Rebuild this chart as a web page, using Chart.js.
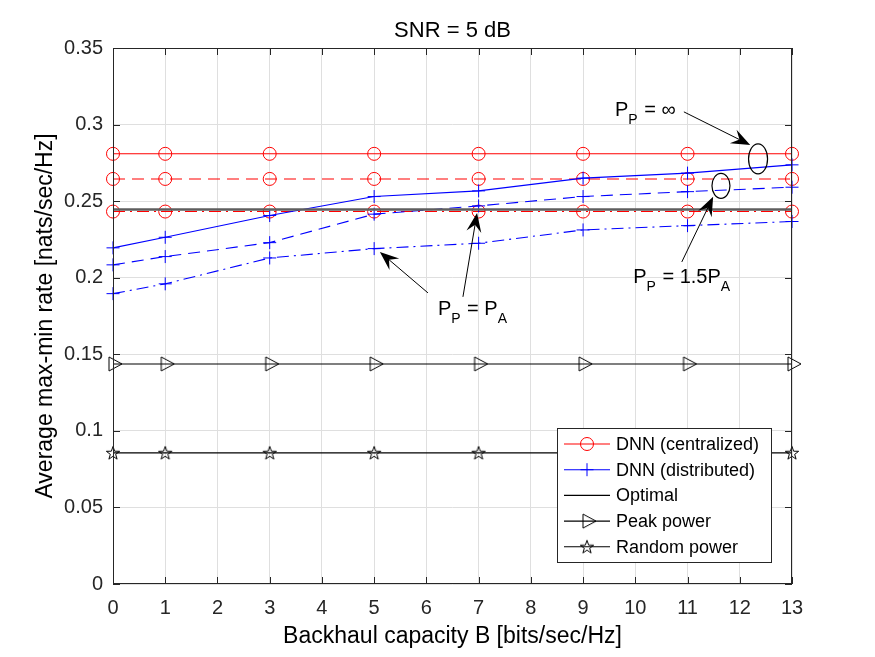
<!DOCTYPE html>
<html>
<head>
<meta charset="utf-8">
<script src="https://cdn.jsdelivr.net/npm/chart.js@4/dist/chart.umd.min.js"></script>
<style>
  html, body { margin: 0; padding: 0; background: #fff; }
  #wrap { width: 875px; height: 657px; }
</style>
</head>
<body>
<div id="wrap"><canvas id="chart" width="875" height="657"></canvas></div>
<script>
// Backhaul capacity B (x axis)
const backhaul = [0, 1, 3, 5, 7, 9, 11, 13];

// DNN (centralized): P_P = inf, 1.5 P_A, P_A
const centralInf  = [0.2809, 0.2809, 0.2809, 0.2809, 0.2809, 0.2809, 0.2809, 0.2809];
const centralHalf = [0.2645, 0.2645, 0.2645, 0.2645, 0.2645, 0.2645, 0.2645, 0.2645];
const centralEq   = [0.2432, 0.2432, 0.2432, 0.2432, 0.2432, 0.2432, 0.2432, 0.2432];

// DNN (distributed): P_P = inf, 1.5 P_A, P_A
const distInf  = [0.2195, 0.2264, 0.2406, 0.2530, 0.2567, 0.2650, 0.2683, 0.2737];
const distHalf = [0.2084, 0.2138, 0.2229, 0.2415, 0.2469, 0.2530, 0.2562, 0.2591];
const distEq   = [0.1896, 0.1960, 0.2129, 0.2190, 0.2225, 0.2312, 0.2340, 0.2367];

// Baselines
const optimal     = [0.2445, 0.2445, 0.2445, 0.2445, 0.2445, 0.2445, 0.2445, 0.2445];
const peakPower   = [0.1437, 0.1437, 0.1437, 0.1437, 0.1437, 0.1437, 0.1437, 0.1437];
const randomPower = [0.0856, 0.0856, 0.0856, 0.0856, 0.0856, 0.0856, 0.0856, 0.0856];

// Ticks
const xTicks = [0, 1, 2, 3, 4, 5, 6, 7, 8, 9, 10, 11, 12, 13];
const yTicks = [0, 0.05, 0.1, 0.15, 0.2, 0.25, 0.3, 0.35];

const legendNames = ['DNN (centralized)', 'DNN (distributed)', 'Optimal', 'Peak power', 'Random power'];

const FONT = '"Liberation Sans", Arial, Helvetica, sans-serif';
const AXIS = '#262626';
const DASH = [12, 7];
const DASHDOT = [12, 5, 2, 5];

// Marcadores propios (triángulo y pentagrama estilo MATLAB)
function makeMarker(size, draw) {
  const c = document.createElement('canvas');
  c.width = size; c.height = size;
  const g = c.getContext('2d');
  g.strokeStyle = '#000';
  g.lineWidth = 1;
  draw(g, size / 2);
  return c;
}
const triMarker = makeMarker(26, (g, c) => {
  g.beginPath();
  g.moveTo(c - 4, c - 7);
  g.lineTo(c + 9, c);
  g.lineTo(c - 4, c + 7);
  g.closePath();
  g.stroke();
});
const starMarker = makeMarker(20, (g, c) => {
  g.beginPath();
  for (let i = 0; i < 10; i++) {
    const r = i % 2 === 0 ? 7 : 2.8;
    const a = -Math.PI / 2 + i * Math.PI / 5;
    const px = c + r * Math.cos(a), py = c + 0.5 + r * Math.sin(a);
    if (i === 0) g.moveTo(px, py); else g.lineTo(px, py);
  }
  g.closePath();
  g.stroke();
});

const pts = (ys) => backhaul.map((x, i) => ({ x: x, y: ys[i] }));

function series(ys, color, dash, style, radius, width) {
  return {
    data: pts(ys),
    borderColor: color,
    borderWidth: width || 1.1,
    borderDash: dash,
    pointStyle: style,
    pointRadius: style ? radius : 0,
    pointBorderColor: color,
    pointBackgroundColor: 'rgba(0,0,0,0)',
    pointBorderWidth: 1,
    tension: 0,
    clip: false
  };
}

const datasets = [
  series(optimal, '#5e5e5e', [], false, 0, 2.4),
  series(peakPower, '#000', [], triMarker, 8),
  series(randomPower, '#000', [], starMarker, 8),
  series(distInf, '#0000ff', [], 'cross', 6.5),
  series(distHalf, '#0000ff', DASH, 'cross', 6.5),
  series(distEq, '#0000ff', DASHDOT, 'cross', 6.5),
  series(centralInf, '#ff0000', [], 'circle', 6.5),
  series(centralHalf, '#ff0000', DASH, 'circle', 6.5),
  series(centralEq, '#ff0000', DASHDOT, 'circle', 6.5)
];

// Anotaciones en coordenadas de datos
const ellipses = [
  { x: 12.35, y: 0.2776, rx: 9.5, ry: 15 },
  { x: 11.64, y: 0.2600, rx: 9, ry: 12.5 }
];
const arrows = [
  { from: [10.93, 0.3083], to: [12.20, 0.2867] },
  { from: [10.89, 0.2103], to: [11.49, 0.2528] },
  { from: [6.03, 0.1901], to: [5.11, 0.2168] },
  { from: [6.70, 0.1875], to: [6.97, 0.2423] }
];
const notes = [
  { x: 9.61, y: 0.3057, parts: [['P'], ['P', 1], [' = \u221E']] },
  { x: 9.96, y: 0.1966, parts: [['P'], ['P', 1], [' = 1.5P'], ['A', 1]] },
  { x: 6.22, y: 0.1757, parts: [['P'], ['P', 1], [' = P'], ['A', 1]] }
];

function drawArrow(ctx, x1, y1, x2, y2) {
  const a = Math.atan2(y2 - y1, x2 - x1);
  const L = 19, W = 7.5, N = 12;
  const cos = Math.cos(a), sin = Math.sin(a);
  ctx.beginPath();
  ctx.moveTo(x1, y1);
  ctx.lineTo(x2 - N * cos, y2 - N * sin);
  ctx.stroke();
  ctx.beginPath();
  ctx.moveTo(x2, y2);
  ctx.lineTo(x2 - L * cos + W * sin, y2 - L * sin - W * cos);
  ctx.lineTo(x2 - N * cos, y2 - N * sin);
  ctx.lineTo(x2 - L * cos - W * sin, y2 - L * sin + W * cos);
  ctx.closePath();
  ctx.fill();
}

function drawNote(ctx, x, y, parts) {
  let cx = x;
  ctx.textAlign = 'left';
  ctx.textBaseline = 'alphabetic';
  parts.forEach(([t, sub]) => {
    ctx.font = (sub ? 14 : 20) + 'px ' + FONT;
    ctx.fillText(t, cx, sub ? y + 8 : y);
    cx += ctx.measureText(t).width + (sub ? 1 : 0);
  });
}

const matlabPlugin = {
  id: 'matlab',
  afterDraw(chart) {
    const { ctx, chartArea: a, scales: { x, y } } = chart;
    ctx.save();

    // Caja y marcas hacia dentro
    ctx.strokeStyle = AXIS;
    ctx.lineWidth = 1;
    ctx.strokeRect(a.left + 0.5, a.top + 0.5, a.right - a.left - 1, a.bottom - a.top - 1);
    ctx.beginPath();
    xTicks.forEach(v => {
      const px = Math.round(x.getPixelForValue(v)) + 0.5;
      ctx.moveTo(px, a.bottom); ctx.lineTo(px, a.bottom - 7);
      ctx.moveTo(px, a.top); ctx.lineTo(px, a.top + 7);
    });
    yTicks.forEach(v => {
      const py = Math.round(y.getPixelForValue(v)) + 0.5;
      ctx.moveTo(a.left, py); ctx.lineTo(a.left + 7, py);
      ctx.moveTo(a.right, py); ctx.lineTo(a.right - 7, py);
    });
    ctx.stroke();

    // Título
    ctx.fillStyle = '#000';
    ctx.font = '22px ' + FONT;
    ctx.textAlign = 'center';
    ctx.textBaseline = 'middle';
    ctx.fillText('SNR = 5 dB', (a.left + a.right) / 2, 31);

    // Anotaciones
    ctx.strokeStyle = '#000';
    ctx.fillStyle = '#000';
    ctx.lineWidth = 1.2;
    ellipses.forEach(e => {
      ctx.beginPath();
      ctx.ellipse(x.getPixelForValue(e.x), y.getPixelForValue(e.y), e.rx, e.ry, 0, 0, Math.PI * 2);
      ctx.stroke();
    });
    ctx.lineWidth = 1;
    arrows.forEach(r => {
      drawArrow(ctx, x.getPixelForValue(r.from[0]), y.getPixelForValue(r.from[1]),
        x.getPixelForValue(r.to[0]), y.getPixelForValue(r.to[1]));
    });
    notes.forEach(n => drawNote(ctx, x.getPixelForValue(n.x), y.getPixelForValue(n.y), n.parts));

    // Leyenda
    const lw = 214, lh = 134;
    const lx = a.right - 21 - lw, ly = a.bottom - 22 - lh;
    ctx.fillStyle = '#fff';
    ctx.fillRect(lx, ly, lw, lh);
    ctx.strokeStyle = AXIS;
    ctx.lineWidth = 1;
    ctx.strokeRect(lx + 0.5, ly + 0.5, lw, lh);
    const colors = ['#ff0000', '#0000ff', '#000', '#000', '#000'];
    legendNames.forEach((name, i) => {
      const yy = ly + 16 + i * 25.7;
      const x0 = lx + 7, x1 = lx + 53, xm = (x0 + x1) / 2;
      ctx.strokeStyle = colors[i];
      ctx.lineWidth = 1.1;
      ctx.beginPath(); ctx.moveTo(x0, yy); ctx.lineTo(x1, yy); ctx.stroke();
      ctx.lineWidth = 1;
      if (i === 0) {
        ctx.beginPath(); ctx.arc(xm, yy, 6.5, 0, Math.PI * 2); ctx.stroke();
      } else if (i === 1) {
        ctx.beginPath();
        ctx.moveTo(xm - 6.5, yy); ctx.lineTo(xm + 6.5, yy);
        ctx.moveTo(xm, yy - 6.5); ctx.lineTo(xm, yy + 6.5);
        ctx.stroke();
      } else if (i === 3) {
        ctx.drawImage(triMarker, xm - triMarker.width / 2, yy - triMarker.height / 2);
      } else if (i === 4) {
        ctx.drawImage(starMarker, xm - starMarker.width / 2, yy - starMarker.height / 2);
      }
      ctx.fillStyle = '#000';
      ctx.font = '18px ' + FONT;
      ctx.textAlign = 'left';
      ctx.textBaseline = 'middle';
      ctx.fillText(name, lx + 59, yy + 1);
    });

    ctx.restore();
  }
};

new Chart(document.getElementById('chart'), {
  type: 'line',
  data: { datasets: datasets },
  plugins: [matlabPlugin],
  options: {
    responsive: false,
    animation: false,
    devicePixelRatio: 1,
    layout: { padding: { top: 48, right: 83, left: 0, bottom: 0 } },
    plugins: { legend: { display: false }, tooltip: { enabled: false }, title: { display: false } },
    scales: {
      x: {
        type: 'linear',
        min: 0,
        max: 13,
        afterBuildTicks: (s) => { s.ticks = xTicks.map(v => ({ value: v })); },
        afterFit: (s) => { s.height = 73; },
        grid: { color: '#dfdfdf', drawTicks: false },
        border: { display: false },
        ticks: { color: AXIS, font: { family: FONT, size: 20 }, padding: 12, maxRotation: 0 },
        title: { display: true, text: 'Backhaul capacity B [bits/sec/Hz]', color: '#000',
                 font: { family: FONT, size: 23 }, padding: { top: 0, bottom: 7 } }
      },
      y: {
        min: 0,
        max: 0.35,
        afterBuildTicks: (s) => { s.ticks = yTicks.map(v => ({ value: v })); },
        afterFit: (s) => { s.width = 113; },
        grid: { color: '#dfdfdf', drawTicks: false },
        border: { display: false },
        ticks: { color: AXIS, font: { family: FONT, size: 20 }, padding: 10,
                 callback: (v) => String(+v.toFixed(2)) },
        title: { display: true, text: 'Average max-min rate [nats/sec/Hz]', color: '#000',
                 font: { family: FONT, size: 23 }, padding: { top: 32, bottom: 0 } }
      }
    }
  }
});
</script>
</body>
</html>
